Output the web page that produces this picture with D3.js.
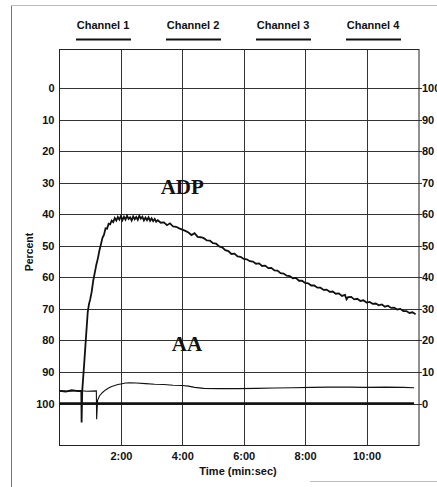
<!DOCTYPE html>
<html>
<head>
<meta charset="utf-8">
<script src="https://cdn.jsdelivr.net/npm/d3@7.9.0/dist/d3.min.js"></script>
<style>
  html, body { margin: 0; padding: 0; background: #fff; }
  svg { display: block; }
  .lbl { font-family: "Liberation Sans", Arial, sans-serif; font-weight: bold; font-size: 11px; fill: #111; }
  .tag { font-family: "Liberation Serif", "Times New Roman", serif; font-weight: bold; font-size: 21px; fill: #111; }
</style>
</head>
<body>
<svg id="chart" width="437" height="487"></svg>
<script>
// ---- data ----
const channels = ['Channel 1', 'Channel 2', 'Channel 3', 'Channel 4'];
const percentTicks = [0, 10, 20, 30, 40, 50, 60, 70, 80, 90, 100];
const aggTicks = [100, 90, 80, 70, 60, 50, 40, 30, 20, 10, 0];
const timeTicks = [2, 4, 6, 8, 10];        // minutes
const timeLabels = ['2:00', '4:00', '6:00', '8:00', '10:00'];

// baseline trace (percent, left scale)
const baseTrace = [[0, 100], [11.55, 100]];

// ADP trace: [minutes, percent]
const adpTrace = [
  [0, 96], [0.2, 96.2], [0.4, 95.8], [0.6, 96.1], [0.71, 96], [0.72, 106], [0.74, 96],
  [0.8, 88], [0.87, 78], [0.92, 71], [0.96, 68.5], [1.0, 67], [1.05, 64.5], [1.1, 61],
  [1.15, 58.5], [1.2, 56], [1.25, 54], [1.3, 51.5], [1.35, 49.5], [1.4, 47.5], [1.45, 46.5],
  [1.5, 44.5], [1.55, 44.6], [1.6, 43], [1.65, 43.2], [1.7, 42], [1.75, 42.5], [1.8, 41.2],
  [1.85, 42.0], [1.9, 40.9], [1.95, 41.7],
  [2.0, 40.6], [2.05, 41.9], [2.1, 40.8], [2.15, 41.7], [2.2, 40.5], [2.25, 41.5], [2.3, 41.0],
  [2.35, 42.0], [2.4, 40.7], [2.45, 41.6], [2.5, 40.9], [2.55, 41.8], [2.6, 40.5], [2.65, 41.4],
  [2.7, 40.8], [2.75, 42.0], [2.8, 41.1], [2.85, 41.9], [2.9, 41.0], [2.95, 42.1], [3.0, 41.3],
  [3.05, 42.2], [3.1, 41.5], [3.15, 42.4],
  [3.2, 41.9], [3.3, 42.7], [3.4, 42.6], [3.5, 43.5], [3.6, 42.9], [3.7, 43.9], [3.8, 44.0],
  [3.9, 44.5], [4.0, 44.9], [4.1, 45.3], [4.2, 45.8], [4.3, 46.6], [4.4, 46.0], [4.5, 47.2],
  [4.6, 47.3], [4.7, 47.6], [4.8, 48.3], [4.9, 48.4], [5.0, 49.2], [5.1, 49.3], [5.2, 50.2],
  [5.3, 50.5], [5.4, 51.4], [5.5, 51.7], [5.6, 52.6], [5.7, 52.5], [5.8, 53.4], [5.9, 53.5],
  [6.0, 54.2], [6.1, 54.3], [6.2, 54.9], [6.3, 55.0], [6.4, 55.7], [6.5, 55.6], [6.6, 56.4],
  [6.7, 56.3], [6.8, 57.1], [6.9, 57.0], [7.0, 57.8], [7.1, 57.9], [7.2, 58.7], [7.3, 58.8],
  [7.4, 59.5], [7.5, 59.6], [7.6, 60.3], [7.7, 60.2], [7.8, 61.1], [7.9, 61.1], [8.0, 61.8],
  [8.1, 61.9], [8.2, 62.6], [8.3, 62.6], [8.4, 63.3], [8.5, 63.3], [8.6, 64.0], [8.7, 63.9],
  [8.8, 64.6], [8.9, 64.5], [9.0, 65.2], [9.1, 65.1], [9.2, 65.9], [9.3, 65.6], [9.35, 67.0],
  [9.4, 66.3], [9.5, 66.2], [9.6, 67.0], [9.7, 66.8], [9.8, 67.5], [9.9, 67.3], [10.0, 68.0],
  [10.1, 67.8], [10.2, 68.4], [10.3, 68.3], [10.4, 68.9], [10.5, 68.6], [10.6, 69.3], [10.7, 69.0],
  [10.8, 69.7], [10.9, 69.6], [11.0, 70.2], [11.1, 70.0], [11.2, 70.7], [11.3, 70.7], [11.4, 71.3],
  [11.5, 71.1], [11.6, 71.7]
];

// AA trace: [minutes, percent]
const aaTrace = [
  [0, 96], [0.3, 96.1], [0.6, 95.9], [0.9, 96.1], [1.2, 96], [1.21, 105], [1.24, 99],
  [1.3, 97.6], [1.4, 96.5], [1.5, 95.7], [1.6, 95.1], [1.7, 94.6], [1.8, 94.3], [1.9, 94.0],
  [2.0, 93.8], [2.15, 93.5], [2.3, 93.4], [2.5, 93.5], [2.8, 93.7], [3.1, 93.9], [3.4, 94.0],
  [3.7, 94.2], [4.0, 94.3], [4.2, 94.5], [4.4, 94.9], [4.7, 95.2], [5.2, 95.3], [5.8, 95.3],
  [6.4, 95.2], [7.0, 95.1], [7.6, 95.0], [8.2, 94.9], [8.8, 94.8], [9.4, 94.8], [10.0, 94.9],
  [10.6, 94.8], [11.2, 94.9], [11.55, 95.0]
];

const traceTags = [
  { text: 'ADP', t: 4.0, v: 33.5 },
  { text: 'AA', t: 4.15, v: 83.5 }
];

// ---- layout ----
const svg = d3.select('#chart');
const plot = { left: 59.5, right: 419, top: 49, bottom: 445 };

const x = d3.scaleLinear().domain([0, 11.71]).range([plot.left, plot.right]);
const y = d3.scaleLinear().domain([0, 100]).range([88, 403.5]);
const yR = d3.scaleLinear().domain([100, 0]).range([88, 403.5]);
const chanX = d3.scaleBand().domain(channels).range([58, 418]);

// scanned page edges
svg.append('line').attr('x1', 11.5).attr('x2', 11.5).attr('y1', 6).attr('y2', 487)
  .attr('stroke', '#777').attr('stroke-width', 1);
svg.append('line').attr('x1', 11).attr('x2', 437).attr('y1', 5.5).attr('y2', 5.5)
  .attr('stroke', '#bbb').attr('stroke-width', 1);
svg.append('line').attr('x1', 310).attr('x2', 437).attr('y1', 481.5).attr('y2', 481.5)
  .attr('stroke', '#bbb').attr('stroke-width', 1);

// channel headers
const ch = svg.append('g').selectAll('g').data(channels).join('g')
  .attr('transform', d => `translate(${chanX(d) + chanX.bandwidth() / 2},0)`);
ch.append('text').attr('class', 'lbl').attr('text-anchor', 'middle').attr('y', 29).text(d => d);
ch.append('line').attr('x1', -27).attr('x2', 28).attr('y1', 39.5).attr('y2', 39.5)
  .attr('stroke', '#111').attr('stroke-width', 2);

// grid
const grid = svg.append('g').attr('stroke', '#333').attr('stroke-width', 1);
grid.selectAll('.h').data(percentTicks).join('line')
  .attr('x1', plot.left).attr('x2', plot.right + 3)
  .attr('y1', d => Math.round(y(d)) + 0.5).attr('y2', d => Math.round(y(d)) + 0.5);
grid.selectAll('.v').data(timeTicks).join('line')
  .attr('x1', d => Math.round(x(d)) + 0.5).attr('x2', d => Math.round(x(d)) + 0.5)
  .attr('y1', plot.top).attr('y2', plot.bottom);
svg.append('rect')
  .attr('x', plot.left).attr('y', plot.top + 0.5)
  .attr('width', plot.right - plot.left).attr('height', plot.bottom - plot.top)
  .attr('fill', 'none').attr('stroke', '#222').attr('stroke-width', 1);

// axes (labels only)
const styleAxis = g => {
  g.select('.domain').remove();
  g.selectAll('text').attr('class', 'lbl').attr('fill', null);
};
svg.append('g').attr('transform', `translate(${plot.left},0)`)
  .call(d3.axisLeft(y).tickValues(percentTicks).tickSize(0).tickPadding(5))
  .call(styleAxis);
svg.append('g').attr('transform', `translate(${plot.right},0)`)
  .call(d3.axisRight(yR).tickValues(aggTicks).tickSize(0).tickPadding(3))
  .call(styleAxis);
svg.append('g').attr('transform', `translate(0,${plot.bottom})`)
  .call(d3.axisBottom(x).tickValues(timeTicks).tickSize(0).tickPadding(7)
    .tickFormat((d, i) => timeLabels[i]))
  .call(styleAxis);

svg.append('text').attr('class', 'lbl').attr('text-anchor', 'middle')
  .attr('x', 238).attr('y', 475).text('Time (min:sec)');
svg.append('text').attr('class', 'lbl').attr('text-anchor', 'middle')
  .attr('transform', 'translate(33,252) rotate(-90)').style('font-size', '10.5px').text('Percent');

// traces
const line = d3.line().x(d => x(d[0])).y(d => y(d[1]));
svg.append('path').attr('d', line(baseTrace))
  .attr('fill', 'none').attr('stroke', '#111').attr('stroke-width', 2.6);
svg.append('path').attr('d', line(aaTrace))
  .attr('fill', 'none').attr('stroke', '#111').attr('stroke-width', 1.1);
svg.append('path').attr('d', line(adpTrace))
  .attr('fill', 'none').attr('stroke', '#111').attr('stroke-width', 1.8).attr('stroke-linejoin', 'miter');

svg.append('g').selectAll('text').data(traceTags).join('text')
  .attr('class', 'tag').attr('text-anchor', 'middle')
  .attr('x', d => x(d.t)).attr('y', d => y(d.v)).text(d => d.text);
</script>
</body>
</html>
